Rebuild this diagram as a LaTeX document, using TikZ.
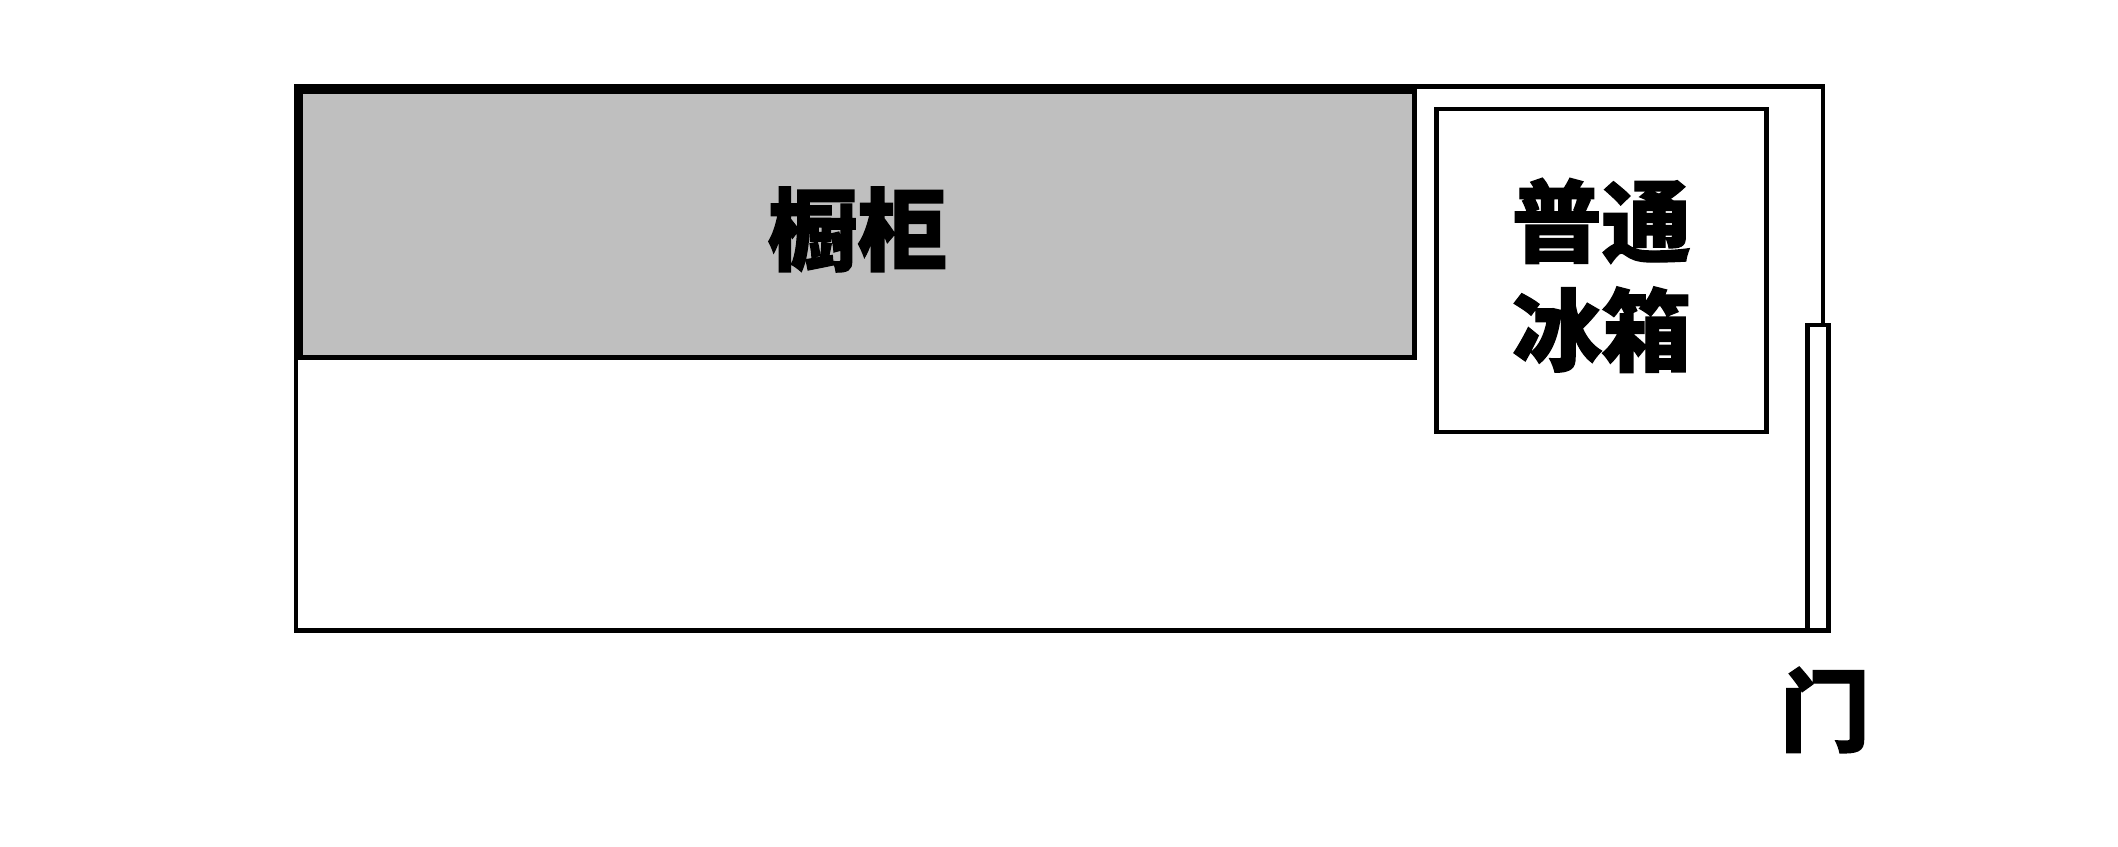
\documentclass[tikz,border=0pt]{standalone}
\usepackage{fontspec}
\newfontfamily\cjk[FakeBold=1.5]{Noto Sans CJK SC Black}
\definecolor{cabinetgrey}{HTML}{BFBFBF}
\tikzset{
  room/.style={shape=rectangle, draw=black, line width=1.28pt, inner sep=0pt, outer sep=0pt},
  label/.style={font=\cjk\fontsize{25.5pt}{31pt}\selectfont, align=center, yshift=-0.05cm},
}

\begin{document}
\begin{tikzpicture}
    \useasboundingbox (0, 0) rectangle (21.18, 8.47);
    \node at (10.595, 4.885) (wall) [room, minimum width=15.27cm, minimum height=5.44cm] {};
    \node at (18.18, 3.6925) (door) [room, fill=white, minimum width=0.21cm, minimum height=3.055cm] {};
    \node at (8.576, 6.225) (cabinet) [room, fill=cabinetgrey, minimum width=11.138cm, minimum height=2.66cm] {};
    \node at (16.015, 5.765) (fridge) [room, fill=white, minimum width=3.30cm, minimum height=3.23cm] {};
    \node at (cabinet) (cabinetlabel) [label] {橱柜};
    \node at (fridge) (fridgelabel) [label] {普通\\冰箱};
    \node at (18.25, 1.42) (doorlabel) [label] {门};
\end{tikzpicture}
\end{document}
